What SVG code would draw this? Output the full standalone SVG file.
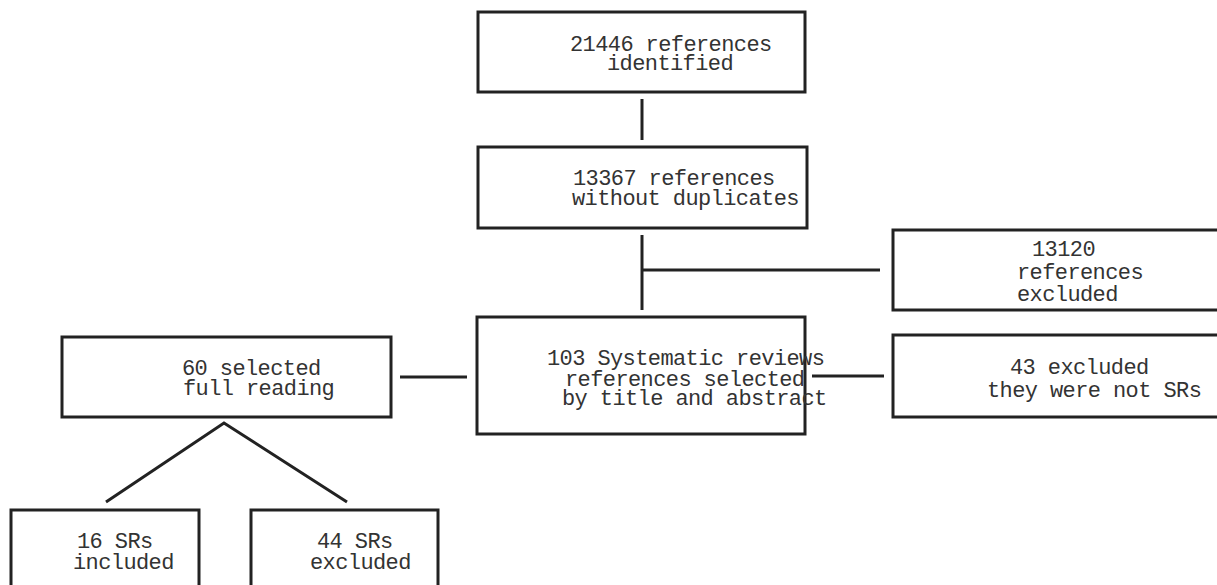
<svg xmlns="http://www.w3.org/2000/svg" width="1217" height="585" viewBox="0 0 1217 585">
<style>
.box{fill:#fff;stroke:#222;stroke-width:3}
.c{stroke:#222;stroke-width:3;fill:none}
text{font-family:"Liberation Mono","Courier New",monospace;font-size:22px;letter-spacing:-0.6px;fill:#333}
</style>
<rect width="1217" height="585" fill="#fff"/>
<g id="connectors">
<line class="c" x1="642" y1="99" x2="642" y2="140"/>
<line class="c" x1="642" y1="235" x2="642" y2="310"/>
<line class="c" x1="642" y1="270" x2="880" y2="270"/>
<line class="c" x1="812" y1="376" x2="884" y2="376"/>
<line class="c" x1="400" y1="377" x2="467" y2="377"/>
<polyline class="c" points="106,502 224,423 347,502"/>
</g>
<g id="n1">
<rect class="box" x="478" y="12" width="327" height="80"/>
<text x="570" y="51">21446 references</text>
<text x="607" y="70">identified</text>
</g>
<g id="n2">
<rect class="box" x="478" y="147" width="329" height="81"/>
<text x="573" y="185">13367 references</text>
<text x="572" y="205">without duplicates</text>
</g>
<g id="n3">
<rect class="box" x="893" y="230" width="340" height="80"/>
<text x="1032" y="256">13120</text>
<text x="1017" y="279">references</text>
<text x="1017" y="301">excluded</text>
</g>
<g id="n4">
<rect class="box" x="477" y="317" width="328" height="117"/>
<text x="547" y="365">103 Systematic reviews</text>
<text x="565" y="386">references selected</text>
<text x="562" y="405">by title and abstract</text>
</g>
<g id="n5">
<rect class="box" x="893" y="335" width="340" height="82"/>
<text x="1010" y="374">43 excluded</text>
<text x="987" y="397">they were not SRs</text>
</g>
<g id="n6">
<rect class="box" x="62" y="337" width="329" height="80"/>
<text x="182" y="375">60 selected</text>
<text x="183" y="395">full reading</text>
</g>
<g id="n7">
<rect class="box" x="11" y="510" width="188" height="90"/>
<text x="77" y="548">16 SRs</text>
<text x="73" y="569">included</text>
</g>
<g id="n8">
<rect class="box" x="251" y="510" width="187" height="90"/>
<text x="317" y="548">44 SRs</text>
<text x="310" y="569">excluded</text>
</g>
</svg>
